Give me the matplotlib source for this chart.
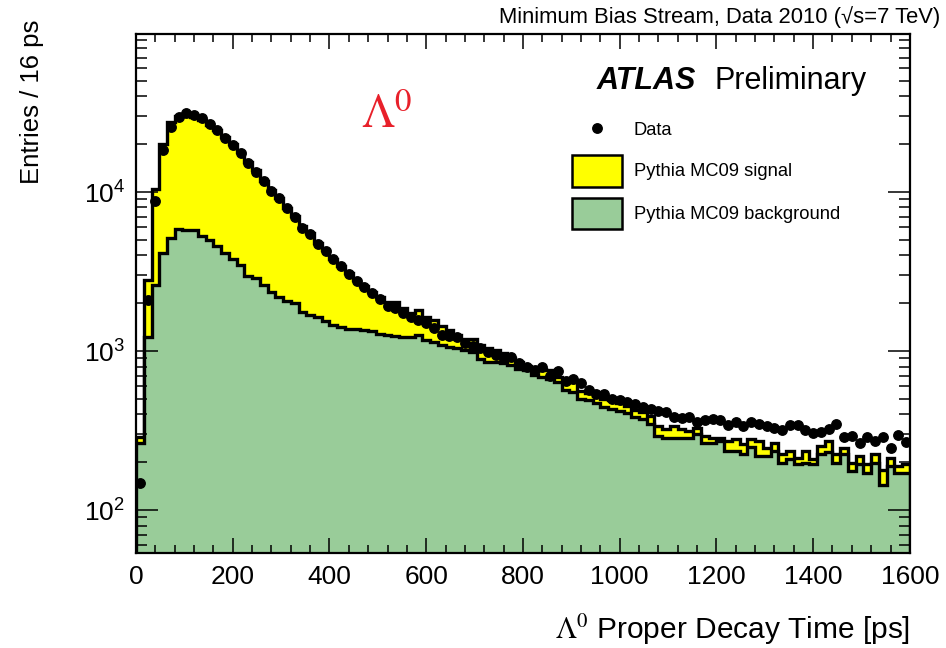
import numpy as np
import matplotlib
matplotlib.use("Agg")
import matplotlib.pyplot as plt
from matplotlib.patches import Rectangle
from matplotlib.ticker import MultipleLocator, LogLocator, NullFormatter

plt.rcParams['font.family'] = ['Liberation Sans', 'DejaVu Sans']
plt.rcParams['mathtext.fontset'] = 'stix'

# 100 bins of 16 ps from 0 to 1600 ps
bin_edges = np.arange(0, 1601, 16)

data_counts = [
    148, 2100, 8730, 18500, 25600, 29700, 31200, 30400, 29300, 26700,
    24700, 22000, 19700, 17500, 15200, 13400, 11700, 10200, 9120, 7920,
    6980, 5980, 5480, 4740, 4230, 3770, 3420, 3070, 2750, 2530,
    2320, 2120, 1910, 1860, 1730, 1630, 1580, 1510, 1390, 1260,
    1240, 1220, 1130, 1080, 1040, 990, 944, 886, 920, 843,
    796, 758, 796, 695, 750, 650, 666, 631, 567, 540,
    540, 502, 490, 478, 467, 443, 433, 423, 417, 388,
    380, 388, 357, 370, 375, 370, 345, 361, 340, 357,
    348, 338, 328, 319, 345, 345, 319, 304, 308, 324,
    348, 290, 294, 266, 290, 273, 290, 246, 297, 270,
]

# signal + background (top of the stack)
mc_sum = [
    287, 2810, 10400, 20100, 27600, 30100, 30400, 29700, 28200, 26300,
    24500, 22200, 20100, 17900, 15500, 13700, 11800, 10300, 9200, 7950,
    7070, 6100, 5530, 4780, 4340, 3800, 3450, 3100, 2780, 2550,
    2350, 2200, 2050, 2050, 1860, 1730, 1820, 1650, 1570, 1430,
    1360, 1260, 1200, 1200, 1090, 1040, 1010, 970, 900, 860,
    810, 770, 770, 760, 690, 650, 640, 560, 545, 525,
    500, 490, 470, 455, 428, 413, 393, 340, 324, 340,
    324, 316, 328, 294, 286, 286, 273, 280, 260, 280,
    273, 245, 263, 225, 236, 212, 234, 209, 254, 273,
    225, 246, 199, 220, 196, 225, 178, 212, 190, 194,
]

mc_bkg = [
    263, 1230, 2620, 4150, 5170, 5890, 5800, 5770, 5290, 4990,
    4590, 4150, 3800, 3500, 2980, 2880, 2620, 2370, 2190, 2080,
    2000, 1770, 1690, 1650, 1550, 1450, 1420, 1380, 1370, 1360,
    1340, 1290, 1270, 1250, 1230, 1220, 1270, 1170, 1140, 1100,
    1060, 1050, 1010, 990, 890, 860, 850, 836, 815, 777,
    758, 705, 688, 671, 640, 567, 552, 500, 490, 470,
    443, 433, 423, 410, 384, 375, 348, 294, 286, 286,
    286, 286, 301, 266, 266, 273, 236, 236, 225, 248,
    220, 220, 236, 199, 209, 196, 199, 194, 225, 231,
    199, 225, 177, 194, 172, 199, 145, 190, 172, 172,
]

bin_centers = 0.5 * (bin_edges[:-1] + bin_edges[1:])

fig = plt.figure(figsize=(9.46, 6.48), dpi=100)
ax = fig.add_axes([0.1438, 0.147, 0.818, 0.801])

ymin, ymax = 54, 9.9e4
green = '#99cc99'

ax.stairs(mc_sum, bin_edges, baseline=1, fill=True, facecolor='#ffff00', edgecolor='none')
ax.stairs(mc_sum, bin_edges, baseline=1, color='black', linewidth=2.4)
ax.stairs(mc_bkg, bin_edges, baseline=1, fill=True, facecolor=green, edgecolor='none')
ax.stairs(mc_bkg, bin_edges, baseline=1, color='black', linewidth=2.4)
ax.plot(bin_centers, data_counts, 'o', color='black', markersize=6.8, zorder=5)

ax.set_yscale('log')
ax.set_xlim(0, 1600)
ax.set_ylim(ymin, ymax)

ax.xaxis.set_major_locator(MultipleLocator(200))
ax.xaxis.set_minor_locator(MultipleLocator(40))
ax.yaxis.set_major_locator(LogLocator(base=10, numticks=10))
ax.yaxis.set_minor_locator(LogLocator(base=10, subs=np.arange(2, 10), numticks=20))
ax.yaxis.set_minor_formatter(NullFormatter())

ax.tick_params(axis='both', which='both', direction='in', top=True, right=True, width=1.1)
ax.tick_params(axis='x', which='major', length=11, labelsize=19, pad=9)
ax.tick_params(axis='x', which='minor', length=5.5)
ax.tick_params(axis='y', which='major', length=16, labelsize=19, pad=8)
ax.tick_params(axis='y', which='minor', length=8)
for sp in ax.spines.values():
    sp.set_linewidth(1.6)
    sp.set_zorder(10)

# labels
fig.text(0.962, 0.028, r'$\Lambda^{0}$ Proper Decay Time [ps]', ha='right', va='center', fontsize=21.5)
fig.text(0.034, 0.969, 'Entries / 16 ps', rotation=90, ha='center', va='top', fontsize=18.5)
fig.text(0.994, 0.973, 'Minimum Bias Stream, Data 2010 (\u221as=7 TeV)',
         ha='right', va='center', fontsize=15.8)

ax.text(0.595, 0.908, 'ATLAS', transform=ax.transAxes, fontsize=22,
        fontweight='bold', fontstyle='italic', va='center', ha='left')
ax.text(0.748, 0.908, 'Preliminary', transform=ax.transAxes, fontsize=22,
        va='center', ha='left')
ax.text(0.324, 0.842, r'$\Lambda^{0}$', transform=ax.transAxes, fontsize=34,
        color='#e8202a', va='center', ha='center')

# legend
ax.plot([0.5956], [0.818], 'o', color='black', markersize=6.8, transform=ax.transAxes, clip_on=False)
ax.add_patch(Rectangle((0.5633, 0.7044), 0.0646, 0.0616, transform=ax.transAxes,
                       facecolor='#ffff00', edgecolor='black', linewidth=1.8, zorder=6))
ax.add_patch(Rectangle((0.5633, 0.6235), 0.0646, 0.0597, transform=ax.transAxes,
                       facecolor=green, edgecolor='black', linewidth=1.8, zorder=6))
ax.text(0.6434, 0.8141, 'Data', transform=ax.transAxes, fontsize=13.2, va='center')
ax.text(0.6434, 0.7349, 'Pythia MC09 signal', transform=ax.transAxes, fontsize=13.2, va='center')
ax.text(0.6434, 0.6521, 'Pythia MC09 background', transform=ax.transAxes, fontsize=13.2, va='center')

fig.savefig('out.png', dpi=100)
